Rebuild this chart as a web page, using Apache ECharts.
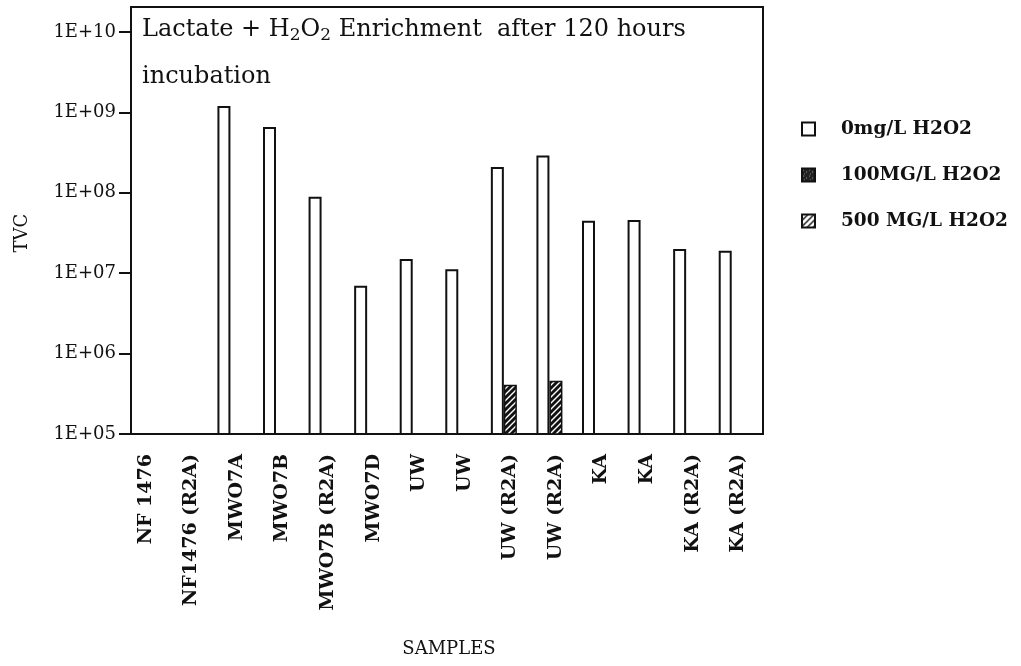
<!DOCTYPE html>
<html lang="en">
<head>
  <meta charset="UTF-8">
  <title>Lactate + H2O2 Enrichment</title>
  <script src="https://cdn.jsdelivr.net/npm/echarts@6.0.0/dist/echarts.min.js"></script>
  <style>
    html, body { margin: 0; padding: 0; background: #fff; }
    #chart { width: 1021px; height: 666px; }
  </style>
</head>
<body>
  <div id="chart"></div>
  <script>
    // sample names along the x axis
    var samples = ['NF 1476', 'NF1476 (R2A)', 'MWO7A', 'MWO7B', 'MWO7B (R2A)', 'MWO7D',
                   'UW', 'UW', 'UW (R2A)', 'UW (R2A)', 'KA', 'KA', 'KA (R2A)', 'KA (R2A)'];
    var seriesNames = ['0mg/L H2O2', '100MG/L H2O2', '500 MG/L H2O2'];
    // TVC (null = no bar)
    var tvc0 = [null, null, 1.2e9, 6.6e8, 8.9e7, 7.0e6, 1.5e7, 1.12e7, 2.1e8, 2.9e8, 4.5e7, 4.6e7, 2.0e7, 1.9e7];
    var tvc100 = [null, null, null, null, null, null, null, null, 4.1e5, 4.6e5, null, null, null, null];
    var tvc500 = [null, null, null, null, null, null, null, null, null, null, null, null, null, null];

    var serif = '"DejaVu Serif", "Liberation Serif", serif';
    var ink = '#111';

    // hatch fills
    function makePattern(bg, fg, speckle) {
      var c = document.createElement('canvas');
      c.width = 6; c.height = 6;
      var g = c.getContext('2d');
      g.fillStyle = bg; g.fillRect(0, 0, 6, 6);
      g.strokeStyle = fg; g.lineWidth = 1.4;
      if (speckle) {
        g.fillStyle = fg;
        g.fillRect(1, 1, 1, 1); g.fillRect(4, 3, 1, 1); g.fillRect(2, 5, 1, 1);
      } else {
        g.beginPath();
        g.moveTo(-1, 7); g.lineTo(7, -1);
        g.moveTo(-1, 1); g.lineTo(1, -1);
        g.moveTo(5, 7); g.lineTo(7, 5);
        g.stroke();
      }
      return { image: c, repeat: 'repeat' };
    }
    var darkHatch = makePattern('#111', '#fff', false);
    var lightHatch = makePattern('#fff', '#111', false);
    var darkSpeckle = makePattern('#222', '#888', true);

    var chart = echarts.init(document.getElementById('chart'));

    var gridLeft = 123, gridRight = 260, gridTop = 32, gridBottom = 232;
    var frameLeft = 131, frameRight = 763, frameTop = 7;

    chart.setOption({
      backgroundColor: '#fff',
      animation: false,
      grid: { left: gridLeft, right: gridRight, top: gridTop, bottom: gridBottom, outerBoundsMode: 'none' },
      legend: {
        orient: 'vertical',
        left: 796, top: 113,
        itemWidth: 13, itemHeight: 13, itemGap: 24,
        icon: 'rect',
        textStyle: { fontFamily: serif, fontSize: 18.5, fontWeight: 'bold', color: ink, lineHeight: 22, padding: [0, 0, 0, 21] },
        data: [
          { name: seriesNames[0], itemStyle: { color: '#fff', borderColor: ink, borderWidth: 2 } },
          { name: seriesNames[1], itemStyle: { color: darkSpeckle, borderColor: ink, borderWidth: 2 } },
          { name: seriesNames[2], itemStyle: { color: lightHatch, borderColor: ink, borderWidth: 2 } }
        ]
      },
      graphic: [
        {
          type: 'rect',
          shape: { x: frameLeft, y: frameTop, width: frameRight - frameLeft, height: 666 - gridBottom - frameTop },
          style: { fill: null, stroke: ink, lineWidth: 2 },
          silent: true
        },
        {
          type: 'text', left: 142, top: 18,
          style: {
            text: 'Lactate + H{sub|2}O{sub|2} Enrichment  after 120 hours',
            fontFamily: serif, fontSize: 24, fill: ink,
            rich: { sub: { fontFamily: serif, fontSize: 17, fill: ink, padding: [12, 0, 0, 0] } }
          }
        },
        {
          type: 'text', left: 142, top: 65,
          style: { text: 'incubation', fontFamily: serif, fontSize: 24, fill: ink }
        }
      ],
      xAxis: {
        type: 'category',
        data: samples,
        name: 'SAMPLES',
        nameLocation: 'middle',
        nameGap: 206,
        nameTextStyle: { fontFamily: serif, fontSize: 18, color: ink, padding: [0, 0, 0, 14] },
        axisLine: { lineStyle: { color: ink, width: 2 } },
        axisTick: { alignWithLabel: true, length: 9, lineStyle: { color: ink, width: 2 } },
        axisLabel: {
          rotate: 90, interval: 0, margin: 20,
          fontFamily: serif, fontSize: 19, fontWeight: 'bold', color: ink
        }
      },
      yAxis: {
        type: 'log',
        logBase: 10,
        min: 1e5,
        max: 1e10,
        offset: gridLeft - frameLeft,
        name: 'TVC',
        nameLocation: 'middle',
        nameGap: 100,
        nameRotate: 90,
        nameTextStyle: { fontFamily: serif, fontSize: 18, color: ink },
        axisLine: { show: true, lineStyle: { color: ink, width: 2 } },
        axisTick: { show: true, length: 12, lineStyle: { color: ink, width: 2 } },
        splitLine: { show: false },
        axisLabel: {
          margin: 15,
          fontFamily: serif, fontSize: 18, color: ink,
          formatter: function (v) {
            var e = Math.round(Math.log10(v));
            return '1E+' + (e < 10 ? '0' + e : e);
          }
        }
      },
      series: [
        {
          name: seriesNames[0], type: 'bar', data: tvc0,
          barWidth: 13, barGap: '0%',
          itemStyle: { color: '#fff', borderColor: ink, borderWidth: 2 }
        },
        {
          name: seriesNames[1], type: 'bar', data: tvc100,
          barWidth: 13, barGap: '0%',
          itemStyle: { color: darkHatch, borderColor: ink, borderWidth: 1.5 }
        },
        {
          name: seriesNames[2], type: 'bar', data: tvc500,
          barWidth: 13, barGap: '0%',
          itemStyle: { color: lightHatch, borderColor: ink, borderWidth: 1.5 }
        }
      ]
    });
  </script>
</body>
</html>
